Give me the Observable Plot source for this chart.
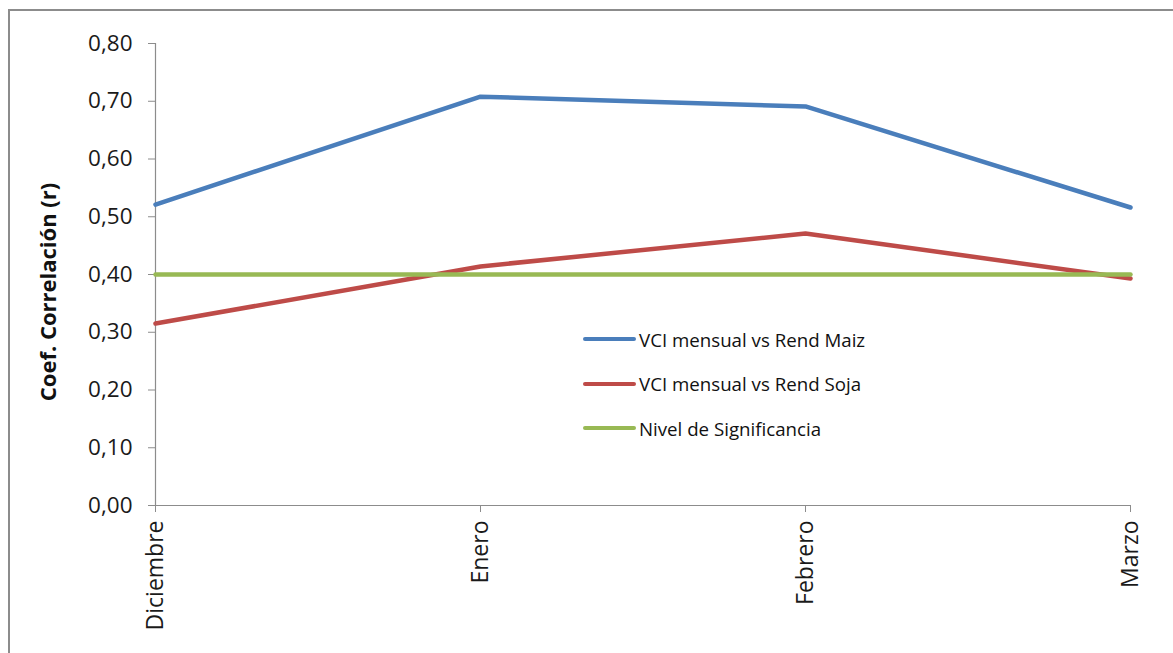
<!DOCTYPE html>
<html>
<head>
<meta charset="utf-8">
<script src="https://cdn.jsdelivr.net/npm/d3@7"></script>
<script src="https://cdn.jsdelivr.net/npm/@observablehq/plot@0.6"></script>
<style>
  html, body { margin: 0; padding: 0; background: #fff; }
  #wrap { position: relative; width: 1173px; height: 653px; overflow: hidden; font-family: "Open Sans", "Noto Sans", sans-serif; }
  #frame { position: absolute; left: 8px; top: 9px; right: -10px; bottom: -10px; border-left: 2px solid #8c8c8c; border-top: 2px solid #8c8c8c; }
  #chart { position: absolute; left: 0; top: 0; }
  .legend { position: absolute; left: 583px; top: 326px; font-family: "Open Sans", "Noto Sans", sans-serif; font-size: 18.7px; color: #111; }
  .legend .item { display: flex; align-items: center; height: 26px; margin-bottom: 18.5px; white-space: nowrap; }
  .legend .sw { width: 53px; height: 4px; border-radius: 2px; margin-right: 3px; }
</style>
</head>
<body>
<div id="wrap">
  <div id="frame"></div>
  <div id="chart"></div>
  <div class="legend" id="legend"></div>
</div>
<script>
const months = ["Diciembre", "Enero", "Febrero", "Marzo"];
const maiz = [0.521, 0.708, 0.691, 0.516];
const soja = [0.315, 0.414, 0.471, 0.393];
const nivel = [0.40, 0.40, 0.40, 0.40];
const seriesNames = ["VCI mensual vs Rend Maiz", "VCI mensual vs Rend Soja", "Nivel de Significancia"];
const seriesColors = ["#4a7ebb", "#be4b48", "#98b954"];
const yTicks = [0, 0.1, 0.2, 0.3, 0.4, 0.5, 0.6, 0.7, 0.8];
const yTitle = "Coef. Correlación (r)";

const rows = [];
[maiz, soja, nivel].forEach((vals, si) => {
  vals.forEach((v, i) => rows.push({ month: months[i], value: v, series: seriesNames[si] }));
});

const fmt = v => d3.format(".2f")(v).replace(".", ",");

const plot = Plot.plot({
  width: 1173,
  height: 653,
  marginLeft: 155,
  marginRight: 43,
  marginTop: 43,
  marginBottom: 148,
  style: { background: "transparent", fontFamily: "'Open Sans', 'Noto Sans', sans-serif", color: "#222" },
  x: { type: "point", domain: months, padding: 0, label: null },
  y: { domain: [0, 0.8], label: null },
  color: { domain: seriesNames, range: seriesColors },
  marks: [
    Plot.axisY({ ticks: yTicks, tickFormat: fmt, tickSize: 7, tickPadding: 16, fontSize: 22.5, stroke: "#8c8c8c", fill: "#1a1a1a" }),
    Plot.ruleX([0], { x: () => months[0], y1: 0, y2: 0.8, stroke: "#8c8c8c", strokeWidth: 1.2 }),
    Plot.axisX({ tickSize: 7, tickPadding: 8, tickRotate: -90, fontSize: 23, stroke: "#8c8c8c", fill: "#1a1a1a", textAnchor: "end" }),
    Plot.ruleY([0], { stroke: "#8c8c8c", strokeWidth: 1.2 }),
    Plot.line(rows, { x: "month", y: "value", z: "series", stroke: "series", strokeWidth: 4.5, strokeLinecap: "round", strokeLinejoin: "round" })
  ]
});
document.getElementById("chart").appendChild(plot);

d3.select(plot).append("text")
  .attr("transform", "translate(56,292) rotate(-90)")
  .attr("text-anchor", "middle")
  .attr("font-family", "'Open Sans', 'Noto Sans', sans-serif")
  .attr("font-weight", "bold")
  .attr("font-size", 22)
  .attr("fill", "#111")
  .text(yTitle);

const legend = document.getElementById("legend");
seriesNames.forEach((n, i) => {
  const it = document.createElement("div");
  it.className = "item";
  const sw = document.createElement("div");
  sw.className = "sw";
  sw.style.background = seriesColors[i];
  const t = document.createElement("span");
  t.textContent = n;
  it.appendChild(sw); it.appendChild(t);
  legend.appendChild(it);
});
</script>
</body>
</html>
